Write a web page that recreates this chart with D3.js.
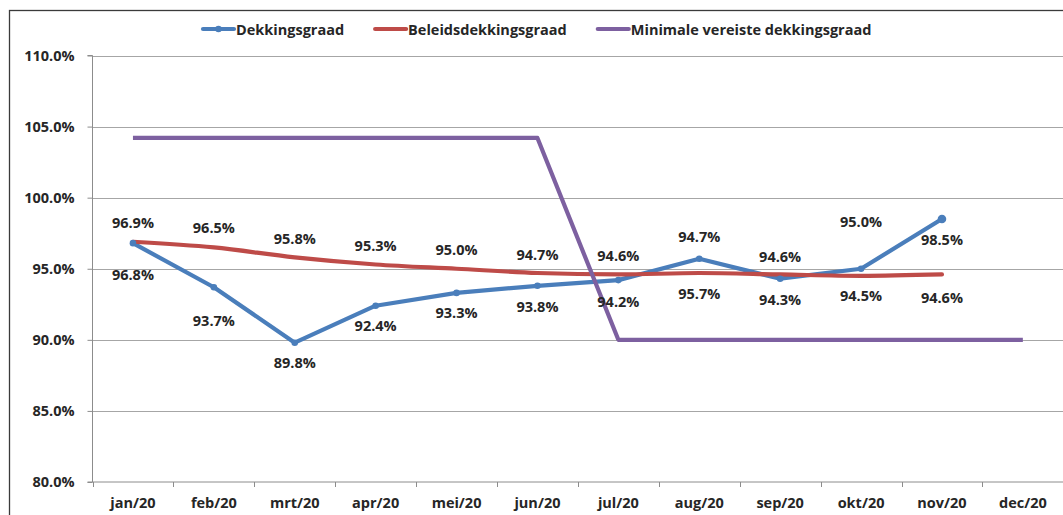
<!DOCTYPE html>
<html>
<head>
<meta charset="utf-8">
<script src="https://cdn.jsdelivr.net/npm/d3@7"></script>
<style>
  html, body { margin: 0; padding: 0; background: #fff; }
  svg { display: block; }
  text { font-family: "Open Sans", "Liberation Sans", sans-serif; font-weight: bold; fill: #262626; }
</style>
</head>
<body>
<svg id="chart" width="1063" height="515"></svg>
<script>
// ---- data ----
const categories = ["jan/20","feb/20","mrt/20","apr/20","mei/20","jun/20","jul/20","aug/20","sep/20","okt/20","nov/20","dec/20"];
const seriesNames = ["Dekkingsgraad","Beleidsdekkingsgraad","Minimale vereiste dekkingsgraad"];
const dekkingsgraad = [96.8, 93.7, 89.8, 92.4, 93.3, 93.8, 94.2, 95.7, 94.3, 95.0, 98.5, null];
const beleidsdekkingsgraad = [96.9, 96.5, 95.8, 95.3, 95.0, 94.7, 94.6, 94.7, 94.6, 94.5, 94.6, null];
const minimaalVereist = [104.2, 104.2, 104.2, 104.2, 104.2, 104.2, 90.0, 90.0, 90.0, 90.0, 90.0, 90.0];
const yTicks = [80, 85, 90, 95, 100, 105, 110];

// label offsets (layout only, px from the point)
const dekLabelDy = [31, 33, 20, 20, 20, 21, 21, 35, 20.5, -47, 21, 0];
const belLabelDy = [-19, -19.5, -19, -19, -19.5, -19, -19, -37, -18, 19.5, 23, 0];

const colors = ["#4A7EBB", "#BE4B48", "#7D60A0"];

// ---- layout ----
const svg = d3.select("#chart");
const plotLeft = 92.5, plotRight = 1063, plotTop = 55.5, plotBottom = 482;

const x = d3.scaleBand().domain(categories).range([plotLeft, plotLeft + 12 * 80.9]).padding(0);
const y = d3.scaleLinear().domain([80, 110]).range([plotBottom, plotTop]);
const cx = d => x(d) + x.bandwidth() / 2;

// outer border
svg.append("rect").attr("x", 9.5).attr("y", 10.5).attr("width", 1100).attr("height", 600)
  .attr("fill", "none").attr("stroke", "#3a3a3a").attr("stroke-width", 1.3);

// gridlines
svg.append("g").selectAll("line").data(yTicks.filter(t => t !== 80)).join("line")
  .attr("x1", plotLeft).attr("x2", plotRight)
  .attr("y1", d => Math.round(y(d)) + 0.5).attr("y2", d => Math.round(y(d)) + 0.5)
  .attr("stroke", "#a6a6a6").attr("stroke-width", 1);

// y axis
const yAxis = d3.axisLeft(y).tickValues(yTicks).tickSize(5).tickPadding(13)
  .tickFormat(d => d.toFixed(1) + "%");
const gy = svg.append("g").attr("transform", `translate(${plotLeft},0)`).call(yAxis);
gy.select(".domain").attr("stroke", "#8c8c8c").attr("d", `M-5,${plotBottom}H0V${plotTop}H-5`);
gy.selectAll(".tick line").attr("stroke", "#8c8c8c");
gy.selectAll(".tick text").style("font-size", "14.5px").attr("fill", "#262626");

// x axis
const xAxis = d3.axisBottom(x).tickSize(0).tickPadding(16);
const gx = svg.append("g").attr("transform", `translate(0,${plotBottom})`).call(xAxis);
gx.select(".domain").attr("stroke", "#8c8c8c").attr("d", `M${plotLeft},0H${plotRight}`);
gx.selectAll(".tick text").style("font-size", "14.5px").attr("fill", "#262626");
// category boundary ticks
svg.append("g").selectAll("line").data(categories).join("line")
  .attr("x1", d => Math.round(x(d)) + 0.5).attr("x2", d => Math.round(x(d)) + 0.5)
  .attr("y1", plotBottom).attr("y2", plotBottom + 5).attr("stroke", "#8c8c8c");
svg.selectAll("g.tick text").attr("font-family", null).attr("font-size", null);

// lines
const series = [dekkingsgraad, beleidsdekkingsgraad, minimaalVereist];
const curves = [d3.curveLinear, d3.curveCatmullRom.alpha(0.5), d3.curveLinear];
series.forEach((vals, si) => {
  const pts = categories.map((c, i) => ({c, v: vals[i]})).filter(p => p.v !== null);
  const line = d3.line().x(p => cx(p.c)).y(p => y(p.v)).curve(curves[si]);
  svg.append("path").datum(pts).attr("d", line)
    .attr("fill", "none").attr("stroke", colors[si]).attr("stroke-width", 4.2)
    .attr("stroke-linejoin", "round").attr("stroke-linecap", si === 2 ? "butt" : "round");
});

// markers for Dekkingsgraad
const dekPts = categories.map((c, i) => ({c, v: dekkingsgraad[i]})).filter(p => p.v !== null);
svg.append("g").selectAll("circle").data(dekPts).join("circle")
  .attr("cx", p => cx(p.c)).attr("cy", p => y(p.v)).attr("r", (p, i) => i === dekPts.length - 1 ? 4.3 : 3.3)
  .attr("fill", colors[0]);

// data labels
function addLabels(vals, dys) {
  svg.append("g").selectAll("text")
    .data(categories.map((c, i) => ({c, v: vals[i], dy: dys[i]})).filter(p => p.v !== null))
    .join("text")
    .attr("x", p => cx(p.c)).attr("y", p => y(p.v) + p.dy)
    .attr("text-anchor", "middle").attr("dominant-baseline", "central")
    .style("font-size", "14.5px")
    .text(p => p.v.toFixed(1) + "%");
}
addLabels(beleidsdekkingsgraad, belLabelDy);
addLabels(dekkingsgraad, dekLabelDy);

// legend
const legend = svg.append("g");
let lx = 203;
const ly = 29;
seriesNames.forEach((name, i) => {
  legend.append("line").attr("x1", lx).attr("x2", lx + 31).attr("y1", ly).attr("y2", ly)
    .attr("stroke", colors[i]).attr("stroke-width", 4.2).attr("stroke-linecap", "round");
  if (i === 0) legend.append("circle").attr("cx", lx + 15.5).attr("cy", ly).attr("r", 3.3).attr("fill", colors[0]);
  const t = legend.append("text").attr("x", lx + 33).attr("y", ly).attr("dominant-baseline", "central")
    .style("font-size", "14.5px").text(name);
  lx = lx + 33 + t.node().getComputedTextLength() + 31;
});
</script>
</body>
</html>
